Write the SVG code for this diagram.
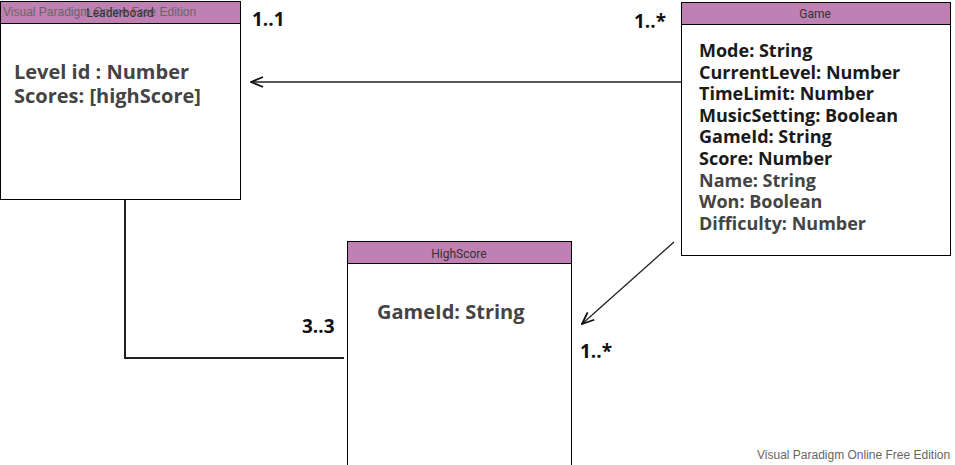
<svg xmlns="http://www.w3.org/2000/svg" width="955" height="465" viewBox="0 0 955 465">
<defs>
<style>
.box{fill:#fff;stroke:#000;stroke-width:1}
.hdr{fill:#bf80b3;stroke:#000;stroke-width:1}
.ttl{font-family:Roboto,"Liberation Sans",sans-serif;font-size:12px;fill:#333;text-anchor:middle}
.att{font-family:"Open Sans","Noto Sans",sans-serif;font-weight:bold;font-size:18px}
.big{font-size:20px}
.d{fill:#1a1a1a}
.g{fill:#444}
.mul{font-family:"Open Sans","Noto Sans",sans-serif;font-weight:bold;font-size:19px;fill:#111}
.wm{font-family:"Liberation Sans",Arial,sans-serif;font-size:12px;fill:#666}
.ln{fill:none;stroke:#222;stroke-width:1.3}
.ln2{fill:none;stroke:#222;stroke-width:2}
</style>
<marker id="ah" markerWidth="14" markerHeight="12" refX="13" refY="6" orient="auto" markerUnits="userSpaceOnUse">
<path d="M1,1 L13,6 L1,11" fill="none" stroke="#111" stroke-width="1.8"/>
</marker>
</defs>
<g id="connectors">
<line class="ln" x1="681" y1="82" x2="251" y2="82" marker-end="url(#ah)"/>
<line class="ln" x1="674" y1="242" x2="582" y2="324" marker-end="url(#ah)"/>
<polyline class="ln2" points="125,200 125,358 344,358"/>
</g>
<g id="leaderboard">
<rect class="box" x="0.5" y="1.5" width="240" height="198"/>
<rect class="hdr" x="0.5" y="1.5" width="240" height="22"/>
<text class="wm" x="3" y="16" fill="#777">Visual Paradigm Online Free Edition</text>
<text class="ttl" x="120" y="17">Leaderboard</text>
<text class="att big g" x="14" y="79">Level id : Number</text>
<text class="att big g" x="14" y="103">Scores: [highScore]</text>
</g>
<g id="game">
<rect class="box" x="681.5" y="2.5" width="269" height="253"/>
<rect class="hdr" x="681.5" y="2.5" width="269" height="22"/>
<text class="ttl" x="815" y="18">Game</text>
<text class="att d" x="699" y="57">Mode: String</text>
<text class="att d" x="699" y="79">CurrentLevel: Number</text>
<text class="att d" x="699" y="100">TimeLimit: Number</text>
<text class="att d" x="699" y="122">MusicSetting: Boolean</text>
<text class="att d" x="699" y="143">GameId: String</text>
<text class="att d" x="699" y="165">Score: Number</text>
<text class="att g" x="699" y="187">Name: String</text>
<text class="att g" x="699" y="208">Won: Boolean</text>
<text class="att g" x="699" y="230">Difficulty: Number</text>
</g>
<g id="highscore">
<rect class="box" x="347.5" y="241.5" width="224" height="230"/>
<rect class="hdr" x="347.5" y="241.5" width="224" height="22"/>
<text class="ttl" x="459" y="258">HighScore</text>
<text class="att big g" x="377" y="319">GameId: String</text>
</g>
<g id="labels">
<text class="mul" x="252" y="26">1..1</text>
<text class="mul" x="634" y="28">1..*</text>
<text class="mul" x="302" y="333">3..3</text>
<text class="mul" x="580" y="358">1..*</text>
</g>
<text class="wm" x="757" y="459">Visual Paradigm Online Free Edition</text>
</svg>
